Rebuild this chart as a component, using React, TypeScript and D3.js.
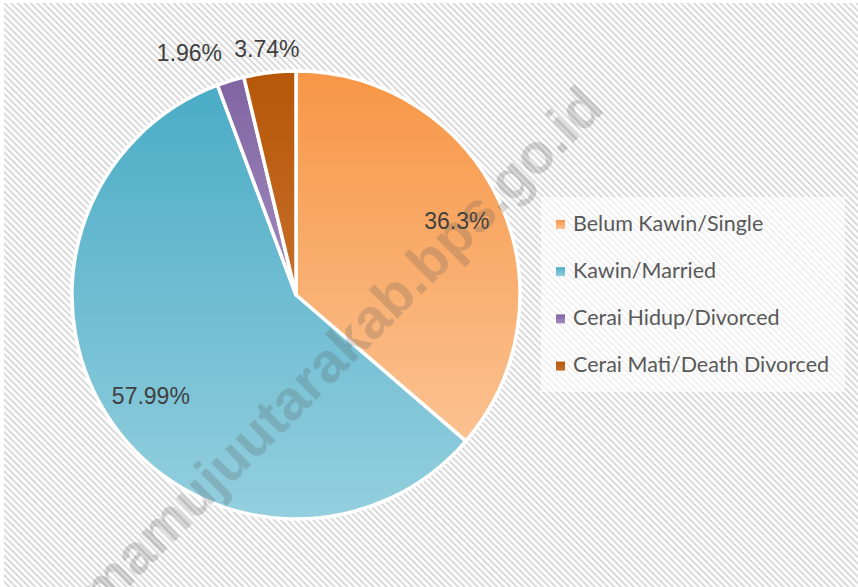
import React from 'react';
import * as d3 from 'd3';

const categories = ['Belum Kawin/Single', 'Kawin/Married', 'Cerai Hidup/Divorced', 'Cerai Mati/Death Divorced'];
const values = [36.3, 57.99, 1.96, 3.74];
const valueLabels = ['36.3%', '57.99%', '1.96%', '3.74%'];
const colorsTop = ['#F79646', '#4BACC6', '#8064A2', '#B65708'];
const colorsBottom = ['#FBC291', '#94CFDE', '#A28DC0', '#C66E28'];
const watermark = 'mamujuutarakab.bps.go.id';

const W = 858;
const H = 587;

export default function App() {
  const cx = 296;
  const cy = 295;
  const r = 224;
  const pie = d3.pie<number>().sort(null).value((d) => d);
  const arcs = pie(values);
  const arcGen = d3.arc<d3.PieArcDatum<number>>().innerRadius(0).outerRadius(r);
  const labelArc = d3.arc<d3.PieArcDatum<number>>().innerRadius(177).outerRadius(177);

  const legendX = 556;
  const legendY0 = 230.5;
  const legendStep = 47.2;

  return (
    <div style={{ position: 'fixed', left: 0, top: 0, width: W, height: H }}>
      <svg width={W} height={H} style={{ display: 'block' }}>
        <defs>
          <pattern id="hatch" width="4.6" height="4.6" patternUnits="userSpaceOnUse" patternTransform="rotate(-45)">
            <rect x="0" y="0" width="4.6" height="4.6" fill="#ffffff" />
            <rect x="0" y="0" width="2" height="4.6" fill="#d9d9d9" />
          </pattern>
          {colorsTop.map((c, i) => (
            <linearGradient key={i} id={`g${i}`} x1="0" y1="0" x2="0" y2="1">
              <stop offset="0" stopColor={c} />
              <stop offset="1" stopColor={colorsBottom[i]} />
            </linearGradient>
          ))}
        </defs>
        <rect x={0} y={0} width={W} height={H} fill="#ffffff" />
        <rect x={4} y={3} width={W - 4} height={H - 3} fill="url(#hatch)" />
        <rect x={541} y={197} width={304} height={195} fill="#ffffff" opacity={0.6} />

        <g transform={`translate(${cx},${cy})`}>
          {arcs.map((a, i) => (
            <path key={i} d={arcGen(a) || ''} fill={`url(#g${i})`} stroke="#ffffff" strokeWidth={3.5} strokeLinejoin="round" />
          ))}
          {arcs.map((a, i) => {
            const big = a.value > 10;
            let x: number, y: number, anchor: string;
            if (big) {
              [x, y] = labelArc.centroid(a);
              anchor = 'middle';
            } else {
              const mid = (a.startAngle + a.endAngle) / 2;
              const dx = Math.sin(mid);
              anchor = dx * 253 < -50 ? 'end' : 'middle';
              const rr = anchor === 'end' ? 253 : 248;
              x = dx * rr;
              y = -Math.cos(mid) * rr;
            }
            return (
              <text key={i} x={x} y={y} dy="0.35em" textAnchor={anchor} fontFamily="'Liberation Sans', Arial, sans-serif" fontSize={23} fill="#404040">
                {valueLabels[i]}
              </text>
            );
          })}
        </g>

        <g>
          {categories.map((c, i) => (
            <g key={i} transform={`translate(${legendX},${legendY0 + i * legendStep})`}>
              <rect x={0} y={-10.5} width={9} height={9} fill={`url(#g${i})`} />
              <text x={17} y={0} fontFamily="Lato, 'Open Sans', sans-serif" fontSize={21.5} fill="#595959">
                {c}
              </text>
            </g>
          ))}
        </g>

        <text
          transform="translate(606,110) rotate(-45)"
          textAnchor="end"
          fontFamily="'Liberation Sans', Arial, sans-serif"
          fontWeight="bold"
          fontSize={56}
          fill="#555555"
          opacity={0.22}
        >
          {watermark}
        </text>
      </svg>
    </div>
  );
}
